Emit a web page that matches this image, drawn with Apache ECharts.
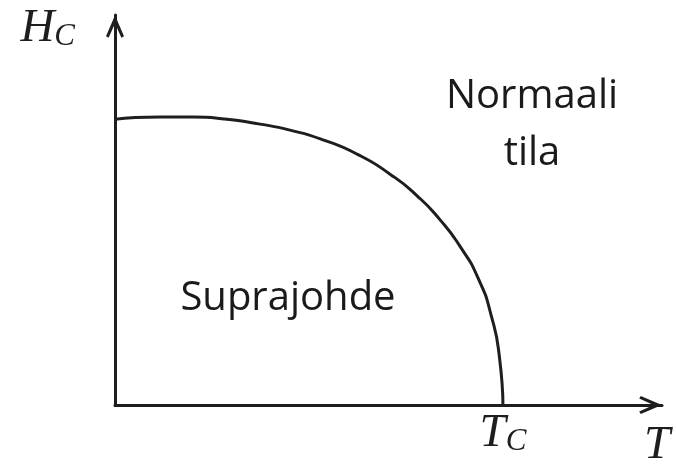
<!DOCTYPE html>
<html>
<head>
<meta charset="utf-8">
<script src="https://cdn.jsdelivr.net/npm/echarts@6/dist/echarts.min.js"></script>
<style>
  html, body { margin: 0; padding: 0; background: #fff; }
  #chart { width: 676px; height: 469px; }
</style>
</head>
<body>
<div id="chart"></div>
<script>
// critical field curve (T in units of Tc, H in units of Hc(0))
const tValues = [0, 0.116, 0.201, 0.289, 0.374, 0.451, 0.536, 0.624, 0.709, 0.778, 0.838, 0.889, 0.936, 0.970, 0.991, 1.0];
const hValues = [1.0, 1.008, 1.008, 1.0, 0.983, 0.962, 0.928, 0.878, 0.808, 0.733, 0.648, 0.556, 0.444, 0.312, 0.167, 0];
const tTicks = [1];
const normalLabel = 'Normaali\ntila';
const superLabel = 'Suprajohde';

const ink = '#1e1e1e';
// open chevron used as arrow head on both axes
const arrow = 'path://M9,0 L18,21 L15.4,22.6 L9,8.2 L2.6,22.6 L0,21 Z';

const mathRich = {
  m: { fontFamily: 'Liberation Serif', fontStyle: 'italic', fontSize: 47, lineHeight: 46, color: ink, verticalAlign: 'bottom' },
  s: { fontFamily: 'Liberation Serif', fontStyle: 'italic', fontSize: 31, lineHeight: 20, color: ink, verticalAlign: 'bottom' },
};

const chart = echarts.init(document.getElementById('chart'));

chart.setOption({
  animation: false,
  grid: { left: 115, right: 14, top: 15, bottom: 61, containLabel: false },
  xAxis: {
    type: 'value',
    min: 0,
    max: 1.41,
    name: '{m|T}',
    nameLocation: 'end',
    nameGap: -5,
    nameTextStyle: { align: 'center', verticalAlign: 'top', padding: [18, 0, 0, 0], rich: mathRich },
    axisLine: {
      lineStyle: { color: ink, width: 3 },
      symbol: ['none', arrow],
      symbolSize: [18, 23],
      symbolOffset: [0, -11.5],
    },
    axisTick: { show: false },
    splitLine: { show: false },
    axisLabel: {
      customValues: tTicks,
      margin: 6,
      formatter: () => '{m|T}{s|C}',
      rich: mathRich,
    },
  },
  yAxis: {
    type: 'value',
    min: 0,
    max: 1.365,
    name: '{m|H}{s|C}',
    nameLocation: 'end',
    nameGap: 9,
    nameTextStyle: { align: 'right', verticalAlign: 'top', padding: [0, 40, 0, 0], rich: mathRich },
    axisLine: {
      lineStyle: { color: ink, width: 3 },
      symbol: ['none', arrow],
      symbolSize: [18, 23],
      symbolOffset: [0, -11.5],
    },
    axisTick: { show: false },
    splitLine: { show: false },
    axisLabel: { show: false },
  },
  series: [
    {
      type: 'line',
      data: tValues.map((t, i) => [t, hValues[i]]),
      smooth: 0.6,
      showSymbol: false,
      symbol: 'none',
      lineStyle: { color: ink, width: 3 },
      z: 1,
    },
  ],
  graphic: [
    {
      type: 'text',
      x: 532,
      y: 68,
      style: {
        text: normalLabel,
        font: '40px "Open Sans"',
        fill: '#1a1a1a',
        align: 'center',
        verticalAlign: 'top',
        lineHeight: 57,
      },
    },
    {
      type: 'text',
      x: 288,
      y: 299,
      style: {
        text: superLabel,
        font: '40px "Open Sans"',
        fill: '#1a1a1a',
        align: 'center',
        verticalAlign: 'middle',
      },
    },
  ],
});
</script>
</body>
</html>
